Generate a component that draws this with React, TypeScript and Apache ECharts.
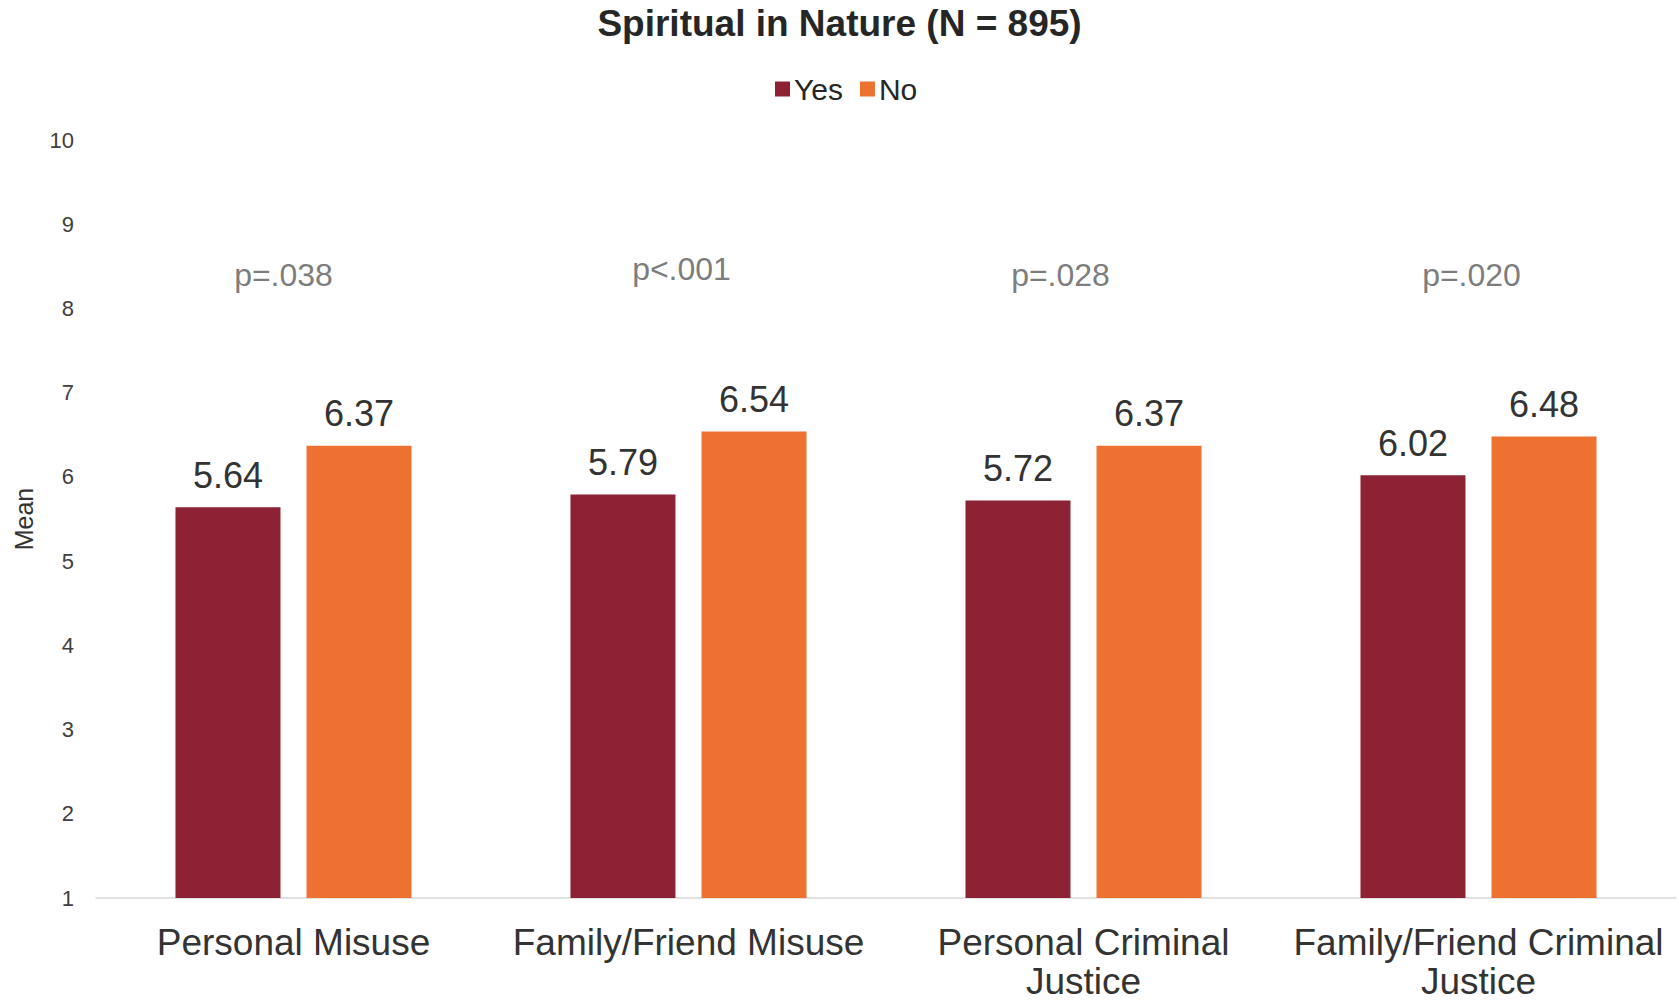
import React, { useEffect, useRef } from "react";
import * as echarts from "echarts";

const categories = [
  "Personal Misuse",
  "Family/Friend Misuse",
  "Personal Criminal\nJustice",
  "Family/Friend Criminal\nJustice",
];
const yesValues = [5.64, 5.79, 5.72, 6.02];
const noValues = [6.37, 6.54, 6.37, 6.48];
const pLabels = ["p=.038", "p<.001", "p=.028", "p=.020"];
const pLabelY = [8.4, 8.47, 8.4, 8.4];
const yTicks = { min: 1, max: 10, interval: 1 };

const FONT = "'Liberation Sans', Arial, Helvetica, sans-serif";
const pOffsets = [-10, -7, -23, -7];

export default function App() {
  const ref = useRef<HTMLDivElement>(null);
  useEffect(() => {
    if (!ref.current) return;
    const chart = echarts.init(ref.current, null, { renderer: "svg" });
    const dataLabel = {
      show: true,
      position: "top",
      distance: 14,
      fontSize: 36,
      color: "#333333",
      fontFamily: FONT,
      formatter: (p: any) => p.value.toFixed(2),
    };
    chart.setOption({
      animation: false,
      backgroundColor: "#ffffff",
      textStyle: { fontFamily: FONT },
      title: {
        text: "Spiritual in Nature (N = 895)",
        left: "center",
        top: 0,
        textStyle: { fontSize: 37, fontWeight: "bold", color: "#262626", fontFamily: FONT },
      },
      legend: {
        data: ["Yes", "No"],
        left: 770,
        top: 69,
        icon: "rect",
        itemWidth: 15,
        itemHeight: 15,
        itemGap: 17,
        textStyle: { fontSize: 30, color: "#262626", padding: [0, 0, 0, -1], fontFamily: FONT },
      },
      grid: {
        left: 96,
        right: 3,
        top: 140,
        bottom: 104,
        containLabel: false,
        outerBoundsMode: "none",
      },
      xAxis: {
        type: "category",
        data: categories,
        axisLine: { show: true, lineStyle: { color: "#d9d9d9", width: 1.5 } },
        axisTick: { show: false },
        axisLabel: {
          fontSize: 37,
          color: "#333333",
          margin: 25,
          lineHeight: 39,
          interval: 0,
          fontFamily: FONT,
        },
      },
      yAxis: {
        type: "value",
        min: yTicks.min,
        max: yTicks.max,
        interval: yTicks.interval,
        name: "Mean",
        nameLocation: "middle",
        nameGap: 60,
        nameTextStyle: { fontSize: 25, color: "#333333", fontFamily: FONT },
        axisLine: { show: false },
        axisTick: { show: false },
        splitLine: { show: false },
        axisLabel: { fontSize: 22, color: "#404040", margin: 22, fontFamily: FONT },
      },
      series: [
        {
          name: "Yes",
          type: "bar",
          data: yesValues,
          barWidth: 105,
          barGap: "24.8%",
          itemStyle: { color: "#8c2233" },
          label: dataLabel,
        },
        {
          name: "No",
          type: "bar",
          data: noValues,
          barWidth: 105,
          barGap: "24.8%",
          itemStyle: { color: "#ed7131" },
          label: dataLabel,
        },
        {
          name: "p",
          type: "scatter",
          data: pLabelY.map((y, i) => ({
            value: [i, y],
            label: { offset: [pOffsets[i], 0] },
          })),
          symbolSize: 0,
          silent: true,
          label: {
            show: true,
            position: "inside",
            fontSize: 32,
            color: "#595959",
            fontFamily: FONT,
            formatter: (p: any) => pLabels[p.dataIndex],
          },
        },
      ],
    });
    return () => chart.dispose();
  }, []);
  return (
    <div
      ref={ref}
      style={{ position: "fixed", left: 0, top: 0, width: "1679px", height: "1002px" }}
    />
  );
}
